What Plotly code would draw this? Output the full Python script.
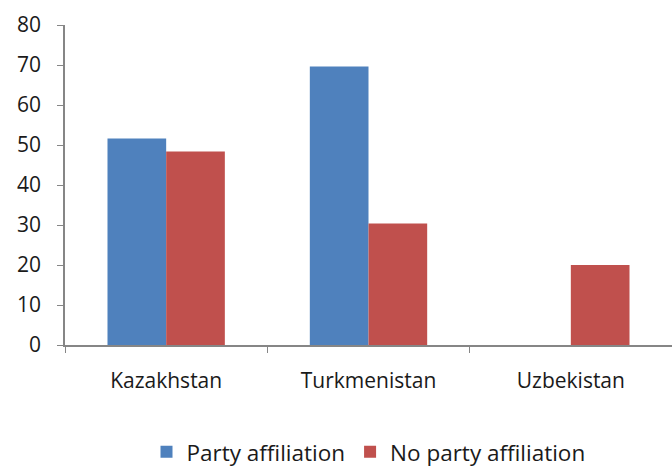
import plotly.graph_objects as go

countries = ["Kazakhstan", "Turkmenistan", "Uzbekistan"]
party = [51.6, 69.6, 0]
no_party = [48.4, 30.4, 20]
y_ticks = [0, 10, 20, 30, 40, 50, 60, 70, 80]

FONT = "Open Sans"
AXIS_GREY = "#868686"

fig = go.Figure()
fig.add_trace(go.Bar(name="Party affiliation", x=countries, y=party,
                     marker=dict(color="#4F81BD", line=dict(width=0))))
fig.add_trace(go.Bar(name="No party affiliation", x=countries, y=no_party,
                     marker=dict(color="#C0504D", line=dict(width=0))))

fig.update_layout(
    width=672, height=470,
    margin=dict(l=65, r=0, t=25, b=125),
    paper_bgcolor="white", plot_bgcolor="white",
    barmode="group", bargap=0.42, bargroupgap=0,
    font=dict(family=FONT, size=21, color="#1a1a1a"),
    legend=dict(orientation="h", x=0.5, xanchor="center",
                yref="container", y=0.038, yanchor="middle",
                font=dict(size=22.5), itemwidth=30, traceorder="normal"),
    showlegend=True,
)
fig.update_xaxes(showline=True, linecolor=AXIS_GREY, linewidth=1.5,
                 ticks="outside", tickson="boundaries", ticklen=6,
                 tickcolor=AXIS_GREY, showgrid=False, ticklabelstandoff=16)
fig.update_yaxes(range=[0, 80], tickvals=y_ticks, showline=True,
                 linecolor=AXIS_GREY, linewidth=1.5, ticks="outside", ticklen=6,
                 tickcolor=AXIS_GREY, showgrid=False, zeroline=False,
                 ticklabelstandoff=12)

fig.write_html("out.html")
